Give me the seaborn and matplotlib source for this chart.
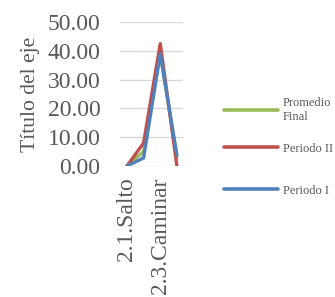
import pandas as pd
import seaborn as sns
import matplotlib.pyplot as plt

# categories (only every other label is shown in the original chart)
categorias = ["2.1.Salto", "2.2.Carrera", "2.3.Caminar", "2.4.Lanzar"]
etiquetas_visibles = ["2.1.Salto", "", "2.3.Caminar", ""]

promedio_final = [0.0, 5.0, 39.0, 3.0]
periodo_ii = [0.0, 8.0, 42.5, 0.0]
periodo_i = [0.0, 2.8, 39.0, 3.8]

series = ["Promedio\nFinal", "Periodo II", "Periodo I"]
colores = ["#9BBB59", "#C0504D", "#4F81BD"]

sns.set_theme(style="white")
plt.rcParams["font.family"] = ["Liberation Serif", "DejaVu Serif"]

df = pd.DataFrame({
    "pos": list(range(len(categorias))) * 3,
    "valor": promedio_final + periodo_ii + periodo_i,
    "serie": [series[0]] * 4 + [series[1]] * 4 + [series[2]] * 4,
})

fig = plt.figure(figsize=(3.35, 2.97), dpi=100)
ax = fig.add_axes([0.358, 0.441, 0.188, 0.485])

sns.lineplot(
    data=df, x="pos", y="valor", hue="serie", hue_order=series,
    palette=colores, linewidth=2.4, ax=ax, legend=True,
)
handles, labels = ax.get_legend_handles_labels()
ax.get_legend().remove()

ax.set_ylim(0, 50)
ax.set_xlim(-0.42, 3.36)
ax.set_yticks(range(0, 51, 10))
ax.set_yticklabels([f"{v:.2f}" for v in range(0, 51, 10)])
ax.set_xticks(range(len(categorias)))
ax.set_xticklabels(etiquetas_visibles, rotation=90)
ax.yaxis.grid(True, color="#D9D9D9", linewidth=1)
ax.set_axisbelow(True)
for s in ax.spines.values():
    s.set_visible(False)
ax.tick_params(axis="y", labelsize=17, labelcolor="#595959", pad=14, length=0)
ax.tick_params(axis="x", labelsize=17, labelcolor="#595959", pad=8, length=0)
ax.set_xlabel("")
ax.set_ylabel("Título del eje", fontsize=15.6, color="#595959")
ax.yaxis.set_label_coords(-1.27, 0.5)

leg_kw = dict(
    frameon=False, fontsize=9, handlelength=4.3, handletextpad=0.4,
    borderpad=0, borderaxespad=0, labelcolor="#595959",
    bbox_transform=fig.transFigure, loc="center left",
)
leg1 = ax.legend(handles[:1], labels[:1], bbox_to_anchor=(224 / 335, 1 - 110 / 297), **leg_kw)
ax.add_artist(leg1)
leg2 = ax.legend(handles[1:], labels[1:], bbox_to_anchor=(224 / 335, 1 - 169.5 / 297),
                 labelspacing=2.4, **leg_kw)
for lg in (leg1, leg2):
    for line in lg.get_lines():
        line.set_linewidth(2.6)
        line.set_solid_capstyle("round")

fig.savefig("out.png", dpi=100)
